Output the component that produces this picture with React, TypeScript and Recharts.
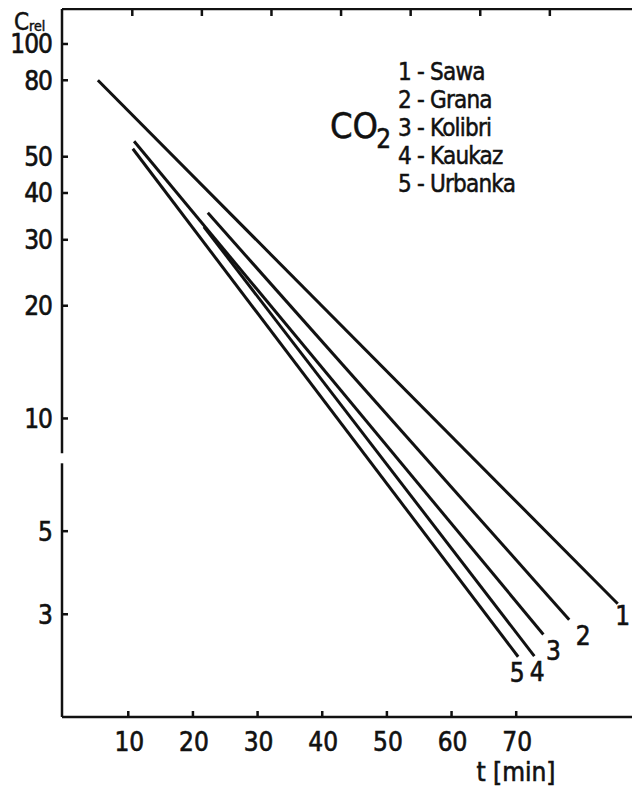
import React from 'react';
import { LineChart, Line, XAxis, YAxis, ReferenceLine } from 'recharts';

const FONT = "'DejaVu Sans Condensed', 'Liberation Sans Narrow', 'Liberation Sans', sans-serif";
const INK = '#111';

// ticks
const xTicks = [10, 20, 30, 40, 50, 60, 70];
const yTicks = [3, 5, 10, 20, 30, 40, 50, 80, 100];

// series (t in min, C_rel)
const seriesIds = ['1', '2', '3', '4', '5'];
const seriesNames = ['Sawa', 'Grana', 'Kolibri', 'Kaukaz', 'Urbanka'];
const sawa = [{ t: 5.3, c: 80 }, { t: 85.7, c: 3.2 }];
const grana = [{ t: 22.3, c: 35.4 }, { t: 78.2, c: 2.9 }];
const kolibri = [{ t: 10.9, c: 55 }, { t: 74.2, c: 2.65 }];
const kaukaz = [{ t: 21.7, c: 32.5 }, { t: 72.8, c: 2.32 }];
const urbanka = [{ t: 10.7, c: 52.5 }, { t: 70.3, c: 2.31 }];
const seriesData = [sawa, grana, kolibri, kaukaz, urbanka];

// axis extents
const xDomain = [-0.25, 89.3];
const xTopDomain = [-0.1, 83.1];
const yDomain = [1.595, 124];
const yBreak = [8.07, 7.59];

// label offsets (px) for end-of-line numbers
const labelOffsets = [[5, 12], [14, 16], [10, 16], [3, 16], [-1, 16]];

const textStyle = { fontFamily: FONT, fill: INK, stroke: INK, strokeWidth: 0.6 };

const YTick = (props: any) => {
  const { x, y, payload } = props;
  return (
    <g>
      <rect x={x} y={y - 1.25} width={6} height={2.5} fill={INK} />
      <text x={x - 10} y={y} dy="0.36em" textAnchor="end" fontSize={26} letterSpacing={-1} {...textStyle}>
        {payload.value}
      </text>
    </g>
  );
};

const XTick = (props: any) => {
  const { x, y, payload } = props;
  return (
    <g>
      <rect x={x - 1.25} y={y - 6} width={2.5} height={6} fill={INK} />
      <text x={x + 1} y={y + 34} textAnchor="middle" fontSize={26} {...textStyle}>
        {payload.value}
      </text>
    </g>
  );
};

// short inward tick at the top end of a vertical reference line
const TopTickShape = (p: any) => {
  const top = Math.min(p.y1, p.y2);
  return <rect x={p.x1 - 1.25} y={top} width={2.5} height={7} fill={INK} />;
};

// short inward tick at the right end of a horizontal reference line
const RightTickShape = (p: any) => {
  const right = Math.max(p.x1, p.x2);
  return <rect x={right - 9} y={p.y1 - 1.25} width={9} height={2.5} fill={INK} />;
};

const makeLabel = (i: number, n: number) => (p: any) => {
  if (p.index !== n - 1) return <g key={`l${i}-${p.index}`} />;
  const [dx, dy] = labelOffsets[i];
  return (
    <text key={`l${i}-${p.index}`} x={p.x + dx} y={p.y + dy} dy="0.36em" textAnchor="middle" fontSize={26} {...textStyle}>
      {seriesIds[i]}
    </text>
  );
};

export default function App() {
  return (
    <div style={{ position: 'relative', width: 632, height: 779, overflow: 'hidden', background: '#fff' }}>
      <LineChart width={660} height={779} margin={{ top: 1, right: 27, bottom: 0, left: 0 }}>
        <XAxis
          xAxisId="b"
          type="number"
          dataKey="t"
          domain={xDomain}
          allowDataOverflow
          ticks={xTicks}
          height={70}
          tickSize={0}
          tickMargin={0}
          tickLine={false}
          axisLine={{ stroke: INK, strokeWidth: 2.5 }}
          tick={<XTick />}
          label={{
            content: (p: any) => (
              <text x={p.viewBox.x + 454} y={p.viewBox.y + 64} textAnchor="middle" fontSize={26} {...textStyle}>
                t [min]
              </text>
            ),
          }}
        />
        <XAxis
          xAxisId="top"
          orientation="top"
          mirror
          type="number"
          dataKey="t"
          domain={xTopDomain}
          allowDataOverflow
          ticks={xTicks}
          tick={false}
          tickLine={false}
          axisLine={{ stroke: INK, strokeWidth: 2.5 }}
        />
        <YAxis
          yAxisId="l"
          type="number"
          scale="log"
          domain={yDomain}
          allowDataOverflow
          ticks={yTicks}
          width={54}
          tickSize={0}
          tickMargin={0}
          tickLine={false}
          axisLine={false}
          tick={<YTick />}
          label={{
            content: () => (
              <text x={6} y={22} fontFamily={FONT} fill={INK} stroke={INK} strokeWidth={0.5}>
                <tspan fontSize={24}>C</tspan>
                <tspan fontSize={14} dy={1}>rel</tspan>
              </text>
            ),
          }}
        />
        <YAxis
          yAxisId="r"
          orientation="right"
          mirror
          type="number"
          scale="log"
          domain={yDomain}
          allowDataOverflow
          ticks={yTicks}
          tick={false}
          tickLine={false}
          axisLine={{ stroke: INK, strokeWidth: 2.5 }}
        />
        <ReferenceLine
          xAxisId="b"
          yAxisId="l"
          ifOverflow="visible"
          segment={[{ x: xDomain[0], y: yDomain[1] }, { x: xDomain[0], y: yBreak[0] }]}
          stroke={INK}
          strokeWidth={2.5}
        />
        <ReferenceLine
          xAxisId="b"
          yAxisId="l"
          ifOverflow="visible"
          segment={[{ x: xDomain[0], y: yBreak[1] }, { x: xDomain[0], y: yDomain[0] }]}
          stroke={INK}
          strokeWidth={2.5}
        />
        {xTicks.map((t) => (
          <ReferenceLine key={`tt${t}`} xAxisId="top" yAxisId="l" x={t} ifOverflow="visible" shape={TopTickShape} />
        ))}
        {yTicks.map((v) => (
          <ReferenceLine key={`rt${v}`} xAxisId="b" yAxisId="r" y={v} ifOverflow="visible" shape={RightTickShape} />
        ))}
        {seriesData.map((d, i) => (
          <Line
            key={seriesIds[i]}
            xAxisId="b"
            yAxisId="l"
            data={d}
            dataKey="c"
            type="linear"
            stroke={INK}
            strokeWidth={3}
            dot={false}
            activeDot={false}
            isAnimationActive={false}
            label={makeLabel(i, d.length)}
          />
        ))}
      </LineChart>
      <div style={{ position: 'absolute', left: 322, top: 100, fontFamily: FONT, color: INK, lineHeight: '36px', whiteSpace: 'nowrap', WebkitTextStroke: '0.5px #111' }}>
        <span style={{ fontSize: 36 }}>CO</span>
        <span style={{ fontSize: 26, position: 'relative', top: 10, marginLeft: -2 }}>2</span>
      </div>
      <div style={{ position: 'absolute', left: 390, top: 50, fontFamily: FONT, color: INK, fontSize: 24, lineHeight: '28px', whiteSpace: 'pre', letterSpacing: -0.8, WebkitTextStroke: '0.5px #111' }}>
        {seriesNames.map((n, i) => (
          <div key={n}>{`${seriesIds[i]} - ${n}`}</div>
        ))}
      </div>
    </div>
  );
}
